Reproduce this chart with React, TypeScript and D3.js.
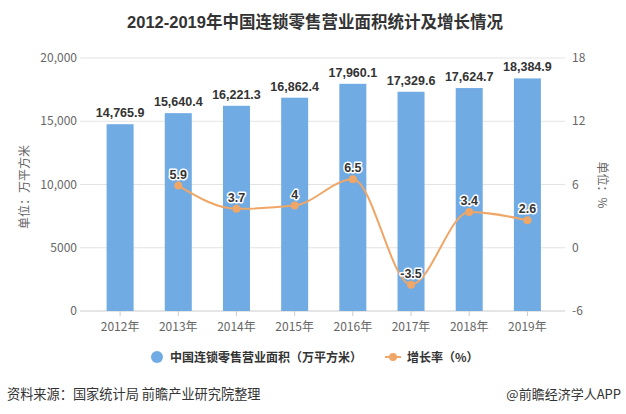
import React from "react";
import * as d3 from "d3";

const categories = ["2012年", "2013年", "2014年", "2015年", "2016年", "2017年", "2018年", "2019年"];
const areaValues = [14765.9, 15640.4, 16221.3, 16862.4, 17960.1, 17329.6, 17624.7, 18384.9];
const growthValues: (number | null)[] = [null, 5.9, 3.7, 4, 6.5, -3.5, 3.4, 2.6];
const leftTicks = [0, 5000, 10000, 15000, 20000];
const rightTicks = [-6, 0, 6, 12, 18];

const W = 626;
const H = 414;
const BAR = "#71ABE4";
const LINE = "#EFA666";
const FONT = "'Noto Sans CJK SC', 'Noto Sans', sans-serif";
const NUMFONT = "'Liberation Sans', Arial, sans-serif";

export default function App() {
  const plotLeft = 80;
  const plotRight = 565;
  const top = 58;
  const bottom = 311;

  const x = d3.scaleBand<string>().domain(categories).range([91, 556.5]).paddingInner(0).paddingOuter(0);
  const bw = 27;
  const yL = d3.scaleLinear().domain([0, 20000]).range([bottom, top]);
  const yR = d3.scaleLinear().domain([-6, 18]).range([bottom, top]);
  const cx = (c: string) => (x(c) as number) + x.bandwidth() / 2;

  const fmtLeft = (v: number) => (v >= 10000 ? d3.format(",")(v) : String(v));
  const fmtBar = d3.format(",.1f");

  const pts = categories
    .map((c, i) => ({ c, v: growthValues[i] }))
    .filter((d) => d.v !== null) as { c: string; v: number }[];

  const line = d3
    .line<{ c: string; v: number }>()
    .x((d) => cx(d.c))
    .y((d) => yR(d.v))
    .curve(d3.curveMonotoneX);

  const outline = { stroke: "#fff", strokeWidth: 3, paintOrder: "stroke" as const, strokeLinejoin: "round" as const };

  return (
    <svg width={W} height={H} style={{ position: "absolute", left: 0, top: 0, background: "#fff" }} xmlns="http://www.w3.org/2000/svg">
      <rect x={0} y={0} width={W} height={H} fill="#fff" />
      <text x={315} y={28} textAnchor="middle" fontFamily={FONT} fontWeight="bold" fontSize={16.5} fill="#333">
        <tspan fontFamily={NUMFONT}>2012-2019</tspan>年中国连锁零售营业面积统计及增长情况
      </text>

      {/* grid */}
      {leftTicks.map((t) => (
        <line key={t} x1={plotLeft} x2={plotRight} y1={yL(t)} y2={yL(t)} stroke={t === 0 ? "#ccc" : "#e3e3e3"} strokeWidth={1} />
      ))}
      {categories.map((c) => (
        <line key={c} x1={cx(c)} x2={cx(c)} y1={bottom} y2={bottom + 5} stroke="#ccc" />
      ))}

      {/* axis labels */}
      {leftTicks.map((t) => (
        <text key={t} x={77} y={yL(t) + 4} textAnchor="end" fontFamily={FONT} fontSize={12} fill="#666">
          {fmtLeft(t)}
        </text>
      ))}
      {rightTicks.map((t) => (
        <text key={t} x={572} y={yR(t) + 4} textAnchor="start" fontFamily={FONT} fontSize={12} fill="#666">
          {t}
        </text>
      ))}
      {categories.map((c) => (
        <text key={c} x={cx(c)} y={331} textAnchor="middle" fontFamily={FONT} fontSize={12} fill="#666">
          {c}
        </text>
      ))}

      <text transform={`translate(29,187) rotate(-90)`} textAnchor="middle" fontFamily={FONT} fontSize={12} fill="#666">
        单位：万平方米
      </text>
      <text transform={`translate(598,185) rotate(90)`} textAnchor="middle" fontFamily={FONT} fontSize={12} fill="#666">
        单位：%
      </text>

      {/* bars */}
      {categories.map((c, i) => (
        <rect key={c} x={cx(c) - bw / 2} y={yL(areaValues[i])} width={bw} height={bottom - yL(areaValues[i])} fill={BAR} />
      ))}
      {categories.map((c, i) => (
        <text key={c} x={cx(c)} y={yL(areaValues[i]) - 7} textAnchor="middle" fontFamily={NUMFONT} fontWeight="bold" fontSize={12.5} fill="#333" {...outline}>
          {fmtBar(areaValues[i])}
        </text>
      ))}

      {/* line */}
      <path d={line(pts) || ""} fill="none" stroke={LINE} strokeWidth={2} />
      {pts.map((d) => (
        <circle key={d.c} cx={cx(d.c)} cy={yR(d.v)} r={4} fill={LINE} />
      ))}
      {pts.map((d) => (
        <text key={d.c} x={cx(d.c)} y={yR(d.v) - 7} textAnchor="middle" fontFamily={NUMFONT} fontWeight="bold" fontSize={12.5} fill="#333" {...outline}>
          {String(d.v)}
        </text>
      ))}

      {/* legend */}
      <circle cx={157} cy={357} r={6} fill={BAR} />
      <text x={170} y={361.5} fontFamily={FONT} fontWeight="bold" fontSize={12} fill="#333">
        中国连锁零售营业面积（万平方米）
      </text>
      <line x1={385} x2={401} y1={357} y2={357} stroke={LINE} strokeWidth={2} />
      <circle cx={393} cy={357} r={4} fill={LINE} />
      <text x={407} y={361.5} fontFamily={FONT} fontWeight="bold" fontSize={12} fill="#333">
        增长率（%）
      </text>

      {/* source */}
      <text x={7} y={399} fontFamily={FONT} fontSize={13.2} fill="#333">
        资料来源：国家统计局 前瞻产业研究院整理
      </text>
      <text x={621} y={399} textAnchor="end" fontFamily={FONT} fontSize={13} fill="#333">
        @前瞻经济学人APP
      </text>
    </svg>
  );
}
